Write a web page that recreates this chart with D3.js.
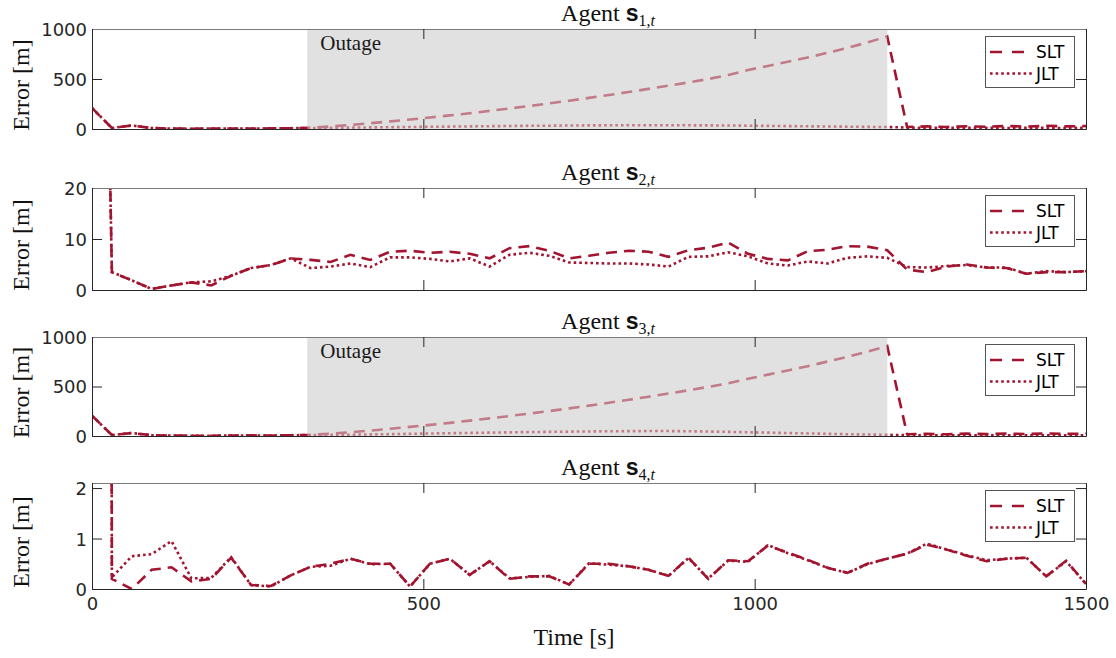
<!DOCTYPE html>
<html><head><meta charset="utf-8">
<script src="https://cdn.jsdelivr.net/npm/d3@7"></script>
<style>body{margin:0;background:#fff}</style>
</head><body><svg id="c" width="1116" height="658"></svg>
<script>
// ---------------- DATA ----------------
const times = [0,30,60,90,120,150,180,210,240,270,300,330,360,390,420,450,480,510,540,570,600,630,660,690,720,750,780,810,840,870,900,930,960,990,1020,1050,1080,1110,1140,1170,1200,1230,1260,1290,1320,1350,1380,1410,1440,1470,1500];

const s1SLT = [210,10,35,10,4,3,4,5,5,6,8,
  12,25,40,58,76,95,115,136,158,181,205,230,256,283,311,340,370,401,433,466,500,540,590,630,672,715,762,812,865,925,
  20,26,20,28,22,30,24,32,26,30];
const s1JLT = [210,10,35,10,4,3,4,5,5,6,8,
  10,12,14,16,18,20,22,24,26,28,30,32,33,35,36,37,38,38,38,37,36,35,33,31,29,27,25,23,21,20,
  14,12,13,11,12,10,12,11,10,12];

const s2SLT = [210,3.5,1.9,0.2,0.9,1.5,0.9,2.8,4.3,4.9,6.2,
  5.9,5.5,6.9,5.9,7.5,7.7,7.3,7.5,7.1,6.2,8.2,8.6,7.7,6.2,6.7,7.3,7.7,7.5,6.5,7.8,8.3,9.3,7.1,6.1,5.8,7.6,7.9,8.6,8.5,7.8,
  4.0,3.5,4.6,5.0,4.4,4.3,3.2,3.5,3.5,3.7];
const s2JLT = [210,3.5,1.9,0.2,0.9,1.5,1.7,2.8,4.3,4.9,6.2,
  4.3,4.6,5.2,4.5,6.4,6.4,6.1,5.6,6.2,4.6,6.9,7.3,6.7,5.4,5.3,5.2,5.2,5.0,4.6,6.5,6.6,7.4,6.6,5.2,4.8,5.6,5.2,6.3,6.6,6.3,
  4.5,4.4,4.7,4.9,4.4,4.4,3.2,3.7,3.5,3.7];

const s3SLT = [205,10,30,8,5,3,3,4,6,5,8,
  12,24,38,55,73,92,112,133,155,178,202,227,252,279,307,336,366,397,429,462,496,533,578,620,662,705,752,800,852,910,
  18,22,17,24,19,25,20,26,21,25];
const s3JLT = [205,10,30,8,5,3,3,4,6,5,8,
  9,11,13,16,19,22,25,28,31,34,37,40,42,44,46,48,49,50,50,48,45,42,38,34,30,26,22,18,15,12,
  8,7,8,6,7,6,7,6,6,7];

const s4SLT = [210,0.2,0.0,0.38,0.43,0.15,0.2,0.62,0.08,0.06,0.27,
  0.44,0.5,0.6,0.5,0.5,0.05,0.5,0.6,0.28,0.55,0.2,0.25,0.25,0.09,0.5,0.5,0.45,0.38,0.26,0.62,0.2,0.57,0.55,0.86,0.72,0.58,0.42,0.32,0.5,0.6,
  0.7,0.88,0.78,0.66,0.55,0.6,0.62,0.25,0.56,0.1];
const s4JLT = [210,0.23,0.65,0.69,0.95,0.21,0.22,0.63,0.08,0.05,0.27,
  0.44,0.46,0.6,0.49,0.5,0.05,0.5,0.6,0.28,0.55,0.21,0.24,0.26,0.09,0.51,0.48,0.45,0.38,0.26,0.61,0.21,0.56,0.54,0.87,0.71,0.57,0.42,0.32,0.49,0.6,
  0.7,0.9,0.78,0.67,0.57,0.6,0.62,0.25,0.55,0.1];

const yTicksBig = [0,500,1000];
const yTicks2 = [0,10,20];
const yTicks4 = [0,1,2];
const xTicks = [0,500,1000,1500];
const legendLabels = ["SLT","JLT"];
const outage = [325,1200];
const agentIds = ["1","2","3","4"];

// ---------------- LAYOUT ----------------
const svg = d3.select("#c");
const L = 92, R = 1086;
const red = "#A2142F";
const axisCol = "#262626";
const serif = "Liberation Serif";
const sans = "DejaVu Sans";
const x = d3.scaleLinear().domain([0,1500]).range([L,R]);
const fmt = d => String(d);

const panels = [
  {top:29,  bottom:129, dom:[0,1000], ticks:yTicksBig, slt:s1SLT, jlt:s1JLT, outage:true},
  {top:188, bottom:290, dom:[0,20],   ticks:yTicks2,   slt:s2SLT, jlt:s2JLT, outage:false},
  {top:337, bottom:436, dom:[0,1000], ticks:yTicksBig, slt:s3SLT, jlt:s3JLT, outage:true},
  {top:483, bottom:589, dom:[0,2.1],  ticks:yTicks4,   slt:s4SLT, jlt:s4JLT, outage:false}
];

const dashSLT = "11,7", dashJLT = "2.6,3";

panels.forEach((p,i)=>{
  const y = d3.scaleLinear().domain(p.dom).range([p.bottom,p.top]);
  const g = svg.append("g");
  const clipId = "clip"+i;
  svg.append("clipPath").attr("id",clipId).append("rect")
    .attr("x",L).attr("y",p.top).attr("width",R-L).attr("height",p.bottom-p.top);

  if(p.outage){
    g.append("rect").attr("x",x(outage[0])).attr("y",p.top)
      .attr("width",x(outage[1])-x(outage[0])).attr("height",p.bottom-p.top)
      .attr("fill","#e1e1e1");
  }
  const line = d3.line().x((d,k)=>x(times[k])).y(d=>y(d));
  const lg = g.append("g").attr("clip-path",`url(#${clipId})`);
  lg.append("path").datum(p.slt).attr("d",line).attr("fill","none")
    .attr("stroke",red).attr("stroke-width",2.6).attr("stroke-dasharray",dashSLT);
  lg.append("path").datum(p.jlt).attr("d",line).attr("fill","none")
    .attr("stroke",red).attr("stroke-width",2.6).attr("stroke-dasharray",dashJLT);

  if(p.outage){
    g.append("rect").attr("x",x(outage[0])).attr("y",p.top)
      .attr("width",x(outage[1])-x(outage[0])).attr("height",p.bottom-p.top)
      .attr("fill","#e1e1e1").attr("opacity",0.5);
    g.append("text").attr("x",x(outage[0])+13).attr("y",p.top+21)
      .attr("font-family",serif).attr("font-size",21).attr("fill","#1a1a1a").text("Outage");
  }

  // axes
  const styleAxis = (ax, col)=>{
    ax.selectAll("path.domain").attr("stroke",col).attr("stroke-width",1);
    ax.selectAll(".tick line").attr("stroke",axisCol);
    ax.selectAll(".tick text").attr("fill",axisCol).attr("font-family",sans).attr("font-size",18);
  };
  const axL = g.append("g").attr("transform",`translate(${L},0)`)
    .call(d3.axisLeft(y).tickValues(p.ticks).tickFormat(fmt).tickSizeInner(-10).tickSizeOuter(0).tickPadding(5));
  styleAxis(axL, axisCol);
  const axR = g.append("g").attr("transform",`translate(${R},0)`)
    .call(d3.axisRight(y).tickValues(p.ticks).tickSizeInner(-10).tickSizeOuter(0).tickFormat(""));
  styleAxis(axR, axisCol);
  const axT = g.append("g").attr("transform",`translate(0,${p.top})`)
    .call(d3.axisTop(x).tickValues(xTicks).tickSizeInner(-10).tickSizeOuter(0).tickFormat(""));
  styleAxis(axT, "#7a7a7a");
  const axB = g.append("g").attr("transform",`translate(0,${p.bottom})`)
    .call(d3.axisBottom(x).tickValues(xTicks).tickSizeInner(-10).tickSizeOuter(0).tickPadding(8)
      .tickFormat(i===3 ? fmt : ""));
  styleAxis(axB, axisCol);
  axL.selectAll(".tick text").attr("dy","0.36em");

  // title
  const t = svg.append("text").attr("x",(L+R)/2+19).attr("y",p.top-8)
    .attr("text-anchor","middle").attr("font-family",serif).attr("font-size",24).attr("fill","#111");
  t.append("tspan").text("Agent ");
  t.append("tspan").attr("font-family","Liberation Sans").attr("font-weight","bold").attr("font-size",23).text("s");
  t.append("tspan").attr("font-size",16).attr("dy",5).text(agentIds[i]+",");
  t.append("tspan").attr("font-size",16).attr("font-style","italic").text("t");

  // y label
  svg.append("text").attr("transform",`translate(29,${(p.top+p.bottom)/2+6}) rotate(-90)`)
    .attr("text-anchor","middle").attr("font-family",serif).attr("font-size",24).attr("fill","#111")
    .text("Error [m]");

  // legend
  const lgx = R-101, lgy = p.top+7;
  const leg = svg.append("g");
  leg.append("rect").attr("x",lgx+0.5).attr("y",lgy+0.5).attr("width",89).attr("height",51)
    .attr("fill","#fff").attr("stroke","#555").attr("stroke-width",1);
  const dashes = ["12,10", dashJLT];
  const ends = [lgx+40, lgx+48];
  legendLabels.forEach((lab,k)=>{
    const ry = lgy + 16 + k*21.5;
    leg.append("line").attr("x1",lgx+5).attr("x2",ends[k]).attr("y1",ry).attr("y2",ry)
      .attr("stroke",red).attr("stroke-width",2.6).attr("stroke-dasharray",dashes[k]);
    leg.append("text").attr("x",lgx+51).attr("y",ry).attr("dy","0.36em")
      .attr("font-family",sans).attr("font-size",17).attr("fill","#000").text(lab);
  });
});

// x label
svg.append("text").attr("x",(L+R)/2-15).attr("y",645).attr("text-anchor","middle")
  .attr("font-family",serif).attr("font-size",24).attr("fill","#111").text("Time [s]");
</script>
</body></html>
